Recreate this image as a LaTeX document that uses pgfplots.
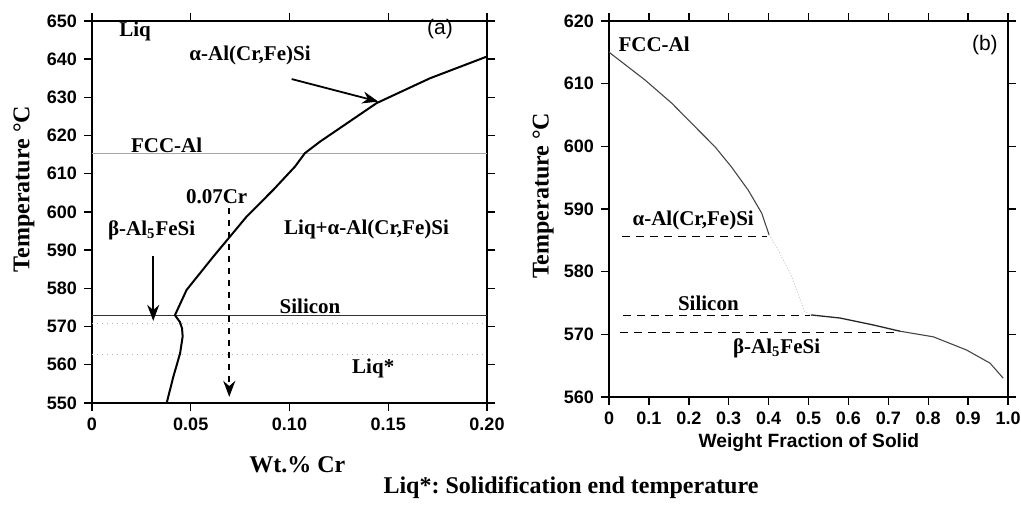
\documentclass[border=0pt]{standalone}
\usepackage{fontspec}
\setmainfont{Liberation Serif}
\newfontfamily\arial{Liberation Sans}
\usepackage{pgfplots}
\pgfplotsset{compat=1.18}
\usetikzlibrary{arrows.meta}
\frenchspacing

\pgfplotsset{
  phase/.style={
    scale only axis,
    tick align=outside,
    major tick length=4pt,
    axis line style={line width=0.9pt},
    every tick/.style={black, line width=0.7pt},
    tick label style={font=\arial\bfseries\fontsize{9}{10}\selectfont},
    /pgf/number format/assume math mode=true,
    label style={font=\bfseries\fontsize{12}{14}\selectfont},
    ylabel={Temperature °C},
    clip=false,
  },
}
\tikzset{lbl/.style={font=\bfseries\fontsize{10.5}{12}\selectfont}}

\begin{document}
\begin{tikzpicture}
\useasboundingbox (0,0) rectangle (510.5pt,-253pt);

% (a) phase diagram
\begin{axis}[phase,
  at={(46pt,-201.5pt)}, anchor=south west,
  width=197.5pt, height=191pt,
  xmin=0, xmax=0.2, ymin=550, ymax=650,
  xtick={0,0.05,0.1,0.15,0.2},
  xticklabels={0,0.05,0.10,0.15,0.20},
  ytick={550,560,...,650},
  xlabel={Wt.\% Cr},
  xlabel style={at={(axis description cs:0.52,-0.162)}, anchor=center},
  ylabel style={at={(axis description cs:-0.172,0.56)}, anchor=center},
]
\addplot[gray!70, line width=0.5pt] coordinates {(0,615.2) (0.2,615.2)};
\addplot[gray!40!black, line width=0.6pt] coordinates {(0,572.9) (0.2,572.9)};
\addplot[gray!60, dotted, line width=0.5pt] coordinates {(0,570.9) (0.2,570.9)};
\addplot[gray!60, dotted, line width=0.5pt] coordinates {(0,562.8) (0.2,562.8)};
\addplot[black, line width=1pt] coordinates {
  (0.0378,550) (0.0412,556.9) (0.0446,563) (0.0459,567.4) (0.0456,569.5)
  (0.0445,571.2) (0.0420,573) (0.0479,579.6) (0.0614,588.3) (0.0783,598.8)
  (0.0918,605.8) (0.1028,611.9) (0.1078,615.4) (0.1154,618.4) (0.1441,628.5)
  (0.1711,635) (0.2,640.7)
};
\addplot[black, line width=0.9pt, dashed, -{Stealth[length=8pt,width=6pt]}]
  coordinates {(0.0695,601) (0.0695,551.6)};
\addplot[black, line width=0.9pt, -{Stealth[length=8pt,width=6pt]}]
  coordinates {(0.031,588.5) (0.031,571.5)};
\addplot[black, line width=0.9pt, -{Stealth[length=8pt,width=6pt]}]
  coordinates {(0.1011,634.8) (0.145,628.9)};
\node[lbl] at (axis cs:0.0218,647.3) {Liq};
\node[lbl] at (axis cs:0.080,641.1) {α-Al(Cr,Fe)Si};
\node[font=\arial\fontsize{10.5}{12}\selectfont] at (axis cs:0.1762,647.8) {(a)};
\node[lbl] at (axis cs:0.0378,617.5) {FCC-Al};
\node[lbl] at (axis cs:0.0631,604) {0.07Cr};
\node[lbl] at (axis cs:0.139,595.3) {Liq+α-Al(Cr,Fe)Si};
\node[lbl] at (axis cs:0.0302,595.3) {β-Al\textsubscript{5}FeSi};
\node[lbl] at (axis cs:0.1104,575.4) {Silicon};
\node[lbl] at (axis cs:0.1424,559.1) {Liq*};
\end{axis}

% (b) solidification path
\begin{axis}[phase,
  at={(304.5pt,-198.5pt)}, anchor=south west,
  width=199.5pt, height=188pt,
  xmin=0, xmax=1, ymin=560, ymax=620,
  xtick={0,0.1,0.2,0.3,0.4,0.5,0.6,0.7,0.8,0.9,1},
  xticklabels={0,0.1,0.2,0.3,0.4,0.5,0.6,0.7,0.8,0.9,1.0},
  ytick={560,570,...,620},
  xlabel={Weight Fraction of Solid},
  xlabel style={at={(axis description cs:0.501,-0.122)}, anchor=center,
    font=\arial\bfseries\fontsize{9.6}{11}\selectfont},
  ylabel style={at={(axis description cs:-0.165,0.535)}, anchor=center},
]
\addplot[gray!55!black, line width=0.55pt] coordinates {
  (0,615.1) (0.0025,614.9) (0.090,610.6) (0.157,606.9) (0.216,603.1)
  (0.266,599.9) (0.307,596.7) (0.349,593.0) (0.383,589.3) (0.401,585.9)
};
\addplot[gray!45, line width=0.45pt, densely dotted] coordinates {
  (0.401,585.9) (0.424,583.5) (0.458,579.2) (0.491,573.6) (0.506,573.1)
};
\addplot[gray!30!black, line width=0.65pt] coordinates {
  (0.506,573.1) (0.579,572.6) (0.662,571.5) (0.729,570.5)
};
\addplot[gray!55!black, line width=0.55pt] coordinates {
  (0.729,570.5) (0.813,569.6) (0.896,567.5) (0.955,565.4) (0.988,563)
};
\addplot[black, line width=0.9pt, dash pattern=on 4pt off 3pt] coordinates {(0.032,585.6) (0.395,585.6)};
\addplot[black, line width=0.9pt, dash pattern=on 4pt off 3pt] coordinates {(0.036,573.0) (0.504,573.0)};
\addplot[black, line width=0.9pt, dash pattern=on 4pt off 3pt] coordinates {(0.028,570.3) (0.729,570.3)};
\node[lbl] at (axis cs:0.113,616.2) {FCC-Al};
\node[font=\arial\fontsize{10.5}{12}\selectfont] at (axis cs:0.942,616.2) {(b)};
\node[lbl] at (axis cs:0.211,588.2) {α-Al(Cr,Fe)Si};
\node[lbl] at (axis cs:0.249,574.9) {Silicon};
\node[lbl] at (axis cs:0.420,567.8) {β-Al\textsubscript{5}FeSi};
\end{axis}

\node[font=\bfseries\fontsize{12}{14}\selectfont] at (285.5pt,-244pt)
  {Liq*: Solidification end temperature};
\end{tikzpicture}
\end{document}
